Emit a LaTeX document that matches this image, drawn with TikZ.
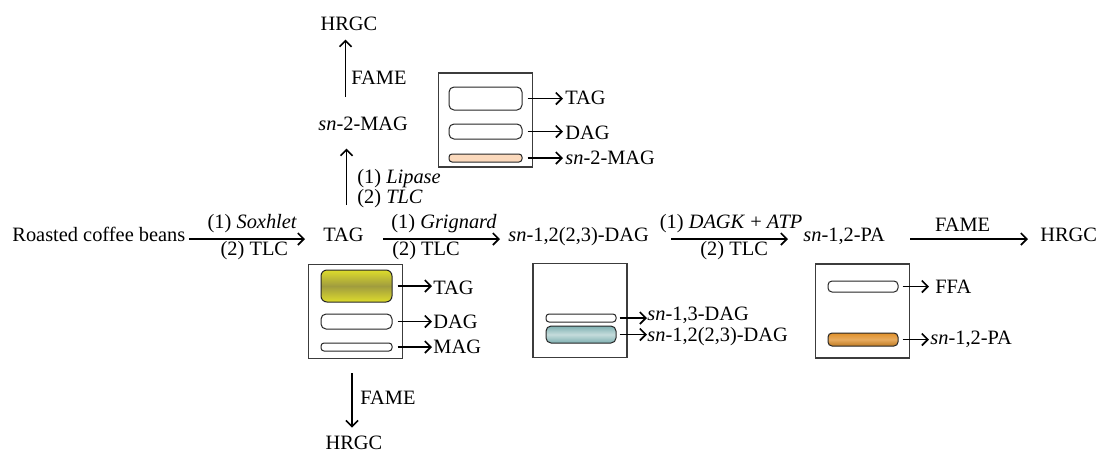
\documentclass[tikz,border=0pt]{standalone}
\usepackage{fontspec}
\setmainfont{Liberation Serif}
\usetikzlibrary{arrows.meta, positioning, calc}

\definecolor{tagyellow}{HTML}{DEDC2C}
\definecolor{tagolive}{HTML}{A09C3E}
\definecolor{dagteal}{HTML}{7EB0B1}
\definecolor{paorange}{HTML}{E0902A}
\definecolor{magpeach}{HTML}{FBD9BC}
\definecolor{plategray}{HTML}{3C3C3C}

\tikzstyle{txt}   = [inner sep=0pt, font=\fontsize{10.2pt}{10pt}\selectfont]
\tikzstyle{lbl}   = [txt, inner sep=1pt]
\tikzstyle{plate} = [rectangle, draw=plategray, line width=0.75pt,
                     minimum width=47pt, minimum height=47pt, inner sep=0pt]
\tikzstyle{band}  = [rectangle, rounded corners=2.5pt, draw=black!85, line width=0.5pt,
                     inner sep=0pt, minimum width=35.5pt, fill=white]
\tikzstyle{arrow} = [line width=0.8pt, -{Straight Barb[length=3pt,width=6pt]}]

\begin{document}
\begin{tikzpicture}[x=0.5pt, y=-0.5pt]
  \useasboundingbox (0,0) rectangle (1100,451);

  % --- main row ---
  \node (beans) [txt, anchor=base west] at (12,241)   {Roasted coffee beans};
  \node (tag)   [txt, anchor=base west] at (323,241)  {TAG};
  \node (dag)   [txt, anchor=base west] at (508,241)  {\textit{sn}-1,2(2,3)-DAG};
  \node (pa)    [txt, anchor=base west] at (803,241)  {\textit{sn}-1,2-PA};
  \node (hrgcR) [txt, anchor=base west] at (1040,241) {HRGC};

  % --- upper and lower branch ---
  \node (mag)    [txt, anchor=base west] at (318,130) {\textit{sn}-2-MAG};
  \node (hrgcT)  [txt, anchor=base] at (349,30)  {HRGC};
  \node (hrgcB)  [txt, anchor=base] at (354,449.5) {HRGC};
  \node (lipase) [txt, anchor=west, align=left] at (357,189)
                 {(1) \textit{Lipase}\\(2) \textit{TLC}};
  \node (fameT)  [txt, anchor=west] at (351,78)  {FAME};
  \node (fameB)  [txt, anchor=west] at (360,398) {FAME};

  % --- TLC plates ---
  \node (uplate) [plate] at (485.5,120) {};
  \node (tplate) [plate] at (355.5,311.5) {};
  \node (dplate) [plate] at (580,310.5) {};
  \node (pplate) [plate] at (862.5,311) {};

  % bands, upper plate
  \node (ub1) [band, minimum width=36.5pt, minimum height=11.5pt] at (485.5,98.5) {};
  \node (ub2) [band, minimum width=36.5pt, minimum height=7.5pt] at (485.5,131.5) {};
  \node (ub3) [band, minimum width=36.5pt, minimum height=4pt, rounded corners=1.5pt,
               fill=magpeach] at (485.5,158) {};
  % bands, TAG plate
  \node (tb1) [band, minimum height=16pt, rounded corners=3pt, top color=tagyellow,
               bottom color=tagyellow, middle color=tagolive] at (356.5,286) {};
  \node (tb2) [band, minimum height=7.5pt] at (356.5,321.5) {};
  \node (tb3) [band, minimum height=4pt, rounded corners=1.5pt] at (356.5,347) {};
  % bands, DAG plate
  \node (db1) [band, minimum width=35pt, minimum height=4pt, rounded corners=1.5pt] at (581,318) {};
  \node (db2) [band, minimum width=35pt, minimum height=8.5pt, top color=dagteal,
               bottom color=dagteal, middle color=dagteal!45!white] at (581,334.5) {};
  % bands, PA plate
  \node (pb1) [band, minimum width=35pt, minimum height=5.5pt, rounded corners=2pt] at (863,286.5) {};
  \node (pb2) [band, minimum width=35pt, minimum height=6.5pt, rounded corners=2pt,
               top color=paorange, bottom color=paorange!85!black,
               middle color=paorange!75!white] at (863,339.5) {};

  % band labels
  \node (utag) [txt, anchor=west] at (565,98)  {TAG};
  \node (udag) [txt, anchor=west] at (565,133) {DAG};
  \node (umag) [txt, anchor=west] at (565,158) {\textit{sn}-2-MAG};
  \node (ttag) [txt, anchor=west] at (433,288) {TAG};
  \node (tdag) [txt, anchor=west] at (433,322) {DAG};
  \node (tmag) [txt, anchor=west] at (433,347) {MAG};
  \node (d13)  [txt, anchor=west] at (647,315.5) {\textit{sn}-1,3-DAG};
  \node (d12)  [txt, anchor=west] at (647,337)   {\textit{sn}-1,2(2,3)-DAG};
  \node (pffa) [txt, anchor=west] at (935,287) {FFA};
  \node (ppa)  [txt, anchor=west] at (930,339) {\textit{sn}-1,2-PA};

  % Arrows, main row
  \draw[arrow, shorten <=1.5pt, shorten >=9pt] ([yshift=1pt]beans.base east)
      -- node[lbl, above=1.5pt, xshift=-1pt] (sox) {(1) \textit{Soxhlet}}
         node[lbl, below] (tlc1) {(2) TLC} ([yshift=1pt]tag.base west);
  \draw[arrow, shorten <=9.5pt, shorten >=4pt] ([yshift=1pt]tag.base east)
      -- node[lbl, above=1.5pt, xshift=4pt] (grig) {(1) \textit{Grignard}}
         node[lbl, below, xshift=-5pt] (tlc2) {(2) TLC} ([yshift=1pt]dag.base west);
  \draw[arrow, shorten <=11pt, shorten >=7.5pt] ([yshift=1pt]dag.base east)
      -- node[lbl, above=1.5pt, xshift=2.5pt] (dagk) {(1) \textit{DAGK} + \textit{ATP}}
         node[lbl, below, xshift=4pt] (tlc3) {(2) TLC} ([yshift=1pt]pa.base west);
  \draw[arrow, shorten <=12.5pt, shorten >=6pt] ([yshift=1pt]pa.base east)
      -- node[lbl, above=2.5pt] (fameR) {FAME} ([yshift=1pt]hrgcR.base west);

  % Arrows, branches
  \draw[arrow, shorten <=11pt, shorten >=9pt] ([xshift=1.5pt]tag.north)
      -- ([xshift=1.5pt]tag.north |- mag.south);
  \draw[arrow, shorten <=9.5pt, shorten >=4.5pt] ([xshift=1pt]tag.north |- mag.north)
      -- ([xshift=1pt]tag.north |- hrgcT.south);
  \draw[arrow, shorten <=7pt, shorten >=4pt] ([xshift=-1.75pt]tplate.south)
      -- ([xshift=-1.75pt]tplate.south |- hrgcB.north);

  % Arrows, bands
  \draw[arrow, shorten <=2.5pt, shorten >=1pt]   (ub1.east) -- (ub1.east -| utag.west);
  \draw[arrow, shorten <=2.5pt, shorten >=1pt]   (ub2.east) -- (ub2.east -| udag.west);
  \draw[arrow, shorten <=2.5pt, shorten >=1pt]   (ub3.east) -- (ub3.east -| umag.west);
  \draw[arrow, shorten <=2.5pt, shorten >=0.5pt] (tb1.east) -- (tb1.east -| ttag.west);
  \draw[arrow, shorten <=2.5pt, shorten >=0.5pt] (tb2.east) -- (tb2.east -| tdag.west);
  \draw[arrow, shorten <=2.5pt, shorten >=0.5pt] (tb3.east) -- (tb3.east -| tmag.west);
  \draw[arrow, shorten <=1.5pt] (db1.east) -- (db1.east -| d13.west);
  \draw[arrow, shorten <=1.5pt] (db2.east) -- (db2.east -| d12.west);
  \draw[arrow, shorten <=2pt, shorten >=3pt]   (pb1.east) -- (pb1.east -| pffa.west);
  \draw[arrow, shorten <=2pt, shorten >=0.5pt] (pb2.east) -- (pb2.east -| ppa.west);

\end{tikzpicture}
\end{document}
